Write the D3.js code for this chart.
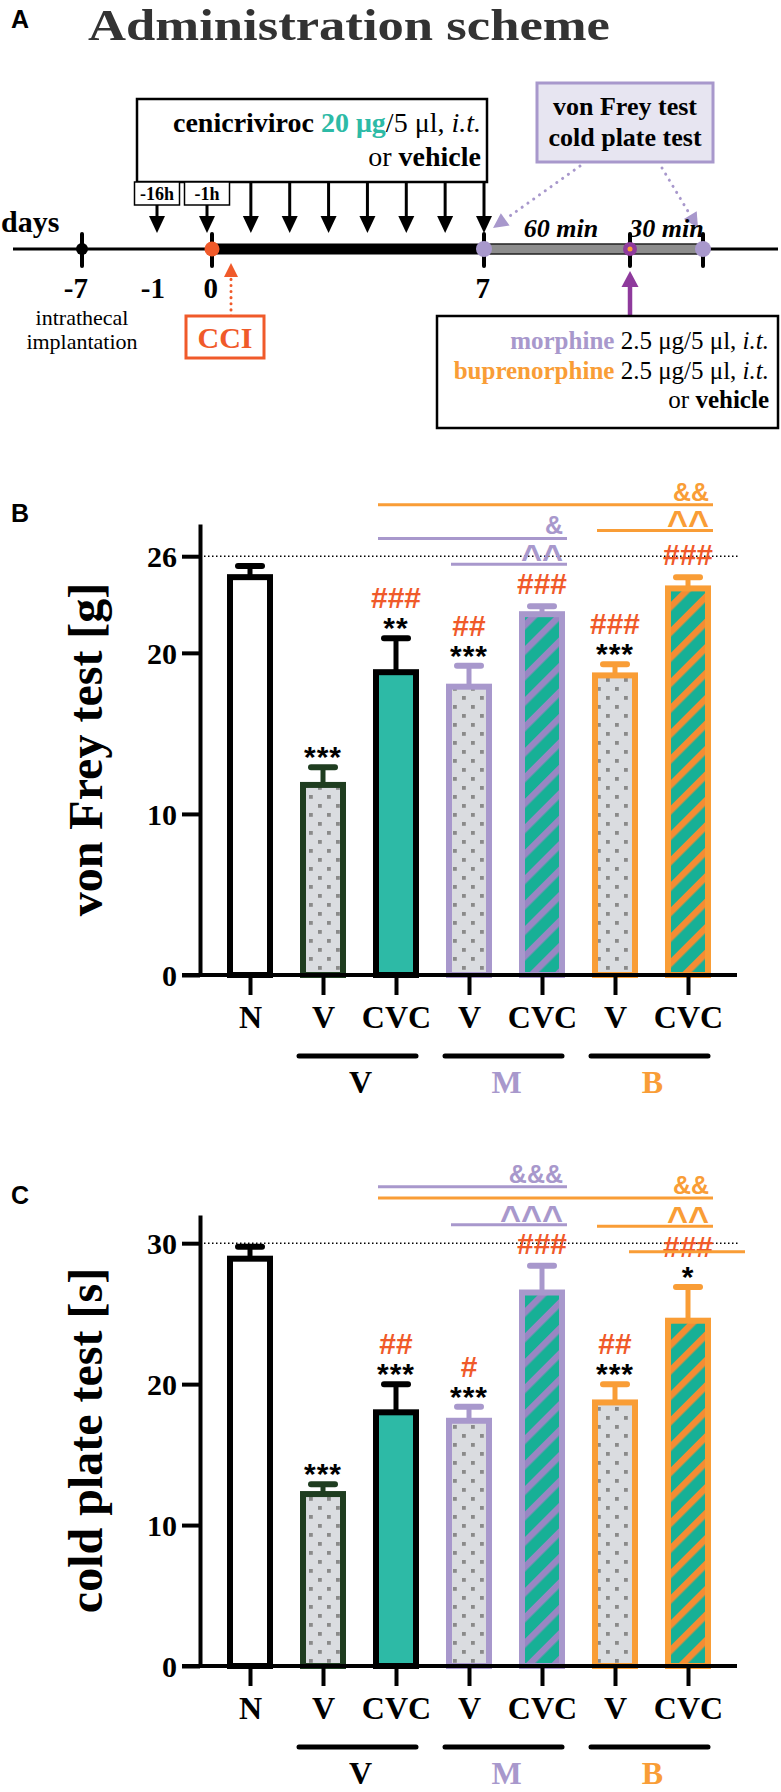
<!DOCTYPE html>
<html><head><meta charset="utf-8">
<script src="https://cdn.jsdelivr.net/npm/d3@7"></script>
<style>body{margin:0;background:#fff} svg{display:block}</style>
</head><body>
<svg id="fig" width="781" height="1792"></svg>
<script>
// ---------------- data ----------------
const categories = ["N","V","CVC","V","CVC","V","CVC"];
const barGroup   = ["N","V","V","M","M","B","B"];
const groupLabels = ["V","M","B"];
const groupSpans  = [[1,2],[3,4],[5,6]];

const vonFreyMean = [24.7, 11.8, 18.8, 17.9, 22.4, 18.6, 24.0];
const vonFreySem  = [0.7, 1.1, 2.1, 1.3, 0.5, 0.7, 0.7];
const vonFreyTicks = [0, 10, 20, 26];
const vonFreyStars = ["", "***", "**", "***", "", "***", ""];
const vonFreyHash  = ["", "", "###", "##", "###", "###", "###"];
const vonFreyBrackets = [
  {from:3, to:4, level:25.5, label:"^^", group:"M"},
  {from:2, to:4, level:27.1, label:"&",  group:"M"},
  {from:5, to:6, level:27.6, label:"^^", group:"B"},
  {from:2, to:6, level:29.2, label:"&&", group:"B"}
];

const coldPlateMean = [28.9, 12.2, 18.0, 17.4, 26.5, 18.7, 24.5];
const coldPlateSem  = [0.85, 0.7, 2.0, 1.0, 1.9, 1.3, 2.4];
const coldPlateTicks = [0, 10, 20, 30];
const coldPlateStars = ["", "***", "***", "***", "", "***", "*"];
const coldPlateHash  = ["", "", "##", "#", "###", "##", "###"];
const coldPlateBrackets = [
  {from:3, to:4, level:31.3, label:"^^^", group:"M"},
  {from:5, to:6, level:31.2, label:"^^",  group:"B"},
  {from:2, to:6, level:33.2, label:"&&",  group:"B"},
  {from:2, to:4, level:34.0, label:"&&&", group:"M"}
];
const coldPlateStrikeLevel = 29.4;

// scheme data
const dayTicks = [-7, -1, 0, 7];
const dayMarkers = [-7, 0, 7];
const injectionDays = [1, 2, 3, 4, 5, 6, 7];
const preInjections = [{label:"-16h", day:-1}, {label:"-1h", day:0}];
const testMinutes = [60, 90];

// ---------------- styles ----------------
const COL = {teal:"#2dbaa6", tealS:"#17b096", lav:"#a898cc", lavS:"#9986c3", orange:"#f99d36", orangeS:"#f48c33",
  green:"#1f3d20", red:"#f05a2a", purple:"#8e3a9c", dotBg:"#dadce0", dot:"#8a8a8a", lavFill:"#e7e5f1"};
const SERIF = "'Liberation Serif','Times New Roman',serif";
const SANS = "'Liberation Sans',Arial,sans-serif";
const groupColor = g => g === "M" ? COL.lav : g === "B" ? COL.orange : "#000";

const svg = d3.select("#fig");
const defs = svg.append("defs");
const pd = defs.append("pattern").attr("id","dots").attr("patternUnits","userSpaceOnUse").attr("width",18).attr("height",18);
pd.append("rect").attr("width",18).attr("height",18).attr("fill",COL.dotBg);
pd.append("rect").attr("x",3).attr("y",3).attr("width",3.8).attr("height",3.8).attr("fill",COL.dot);
pd.append("rect").attr("x",12).attr("y",12).attr("width",3.8).attr("height",3.8).attr("fill",COL.dot);
function stripes(id, col){
  const p = defs.append("pattern").attr("id",id).attr("patternUnits","userSpaceOnUse")
    .attr("width",18).attr("height",18).attr("patternTransform","rotate(45)");
  p.append("rect").attr("width",18).attr("height",18).attr("fill",COL.tealS);
  p.append("rect").attr("width",6.5).attr("height",18).attr("fill",col);
}
stripes("stripeLav", COL.lavS);
stripes("stripeOr", COL.orangeS);

function barStyle(i){
  const g = barGroup[i], cvc = categories[i] === "CVC";
  if (g === "N") return {fill:"#fff", stroke:"#000"};
  if (g === "V") return cvc ? {fill:COL.teal, stroke:"#000"} : {fill:"url(#dots)", stroke:COL.green};
  if (g === "M") return cvc ? {fill:"url(#stripeLav)", stroke:COL.lav} : {fill:"url(#dots)", stroke:COL.lav};
  return cvc ? {fill:"url(#stripeOr)", stroke:COL.orange} : {fill:"url(#dots)", stroke:COL.orange};
}

function arrow(g, x1, y1, x2, y2, o){
  const a = Math.atan2(y2-y1, x2-x1);
  const bx = x2 - o.hh*Math.cos(a), by = y2 - o.hh*Math.sin(a);
  const ln = g.append("line").attr("x1",x1).attr("y1",y1).attr("x2",bx).attr("y2",by)
    .attr("stroke",o.color).attr("stroke-width",o.w);
  if (o.dash) ln.attr("stroke-dasharray",o.dash).attr("stroke-linecap","round");
  const px = -Math.sin(a)*o.hw/2, py = Math.cos(a)*o.hw/2;
  g.append("path").attr("d",`M${x2},${y2}L${bx+px},${by+py}L${bx-px},${by-py}Z`).attr("fill",o.color);
}

// ---------------- Panel A ----------------
const A = svg.append("g");
A.append("text").attr("x",11).attr("y",28).attr("font-family",SANS).attr("font-weight","bold").attr("font-size",25).text("A");
A.append("text").attr("x",88).attr("y",40).attr("font-family",SERIF).attr("font-weight","bold").attr("font-size",45)
  .attr("fill","#333").attr("textLength",522).attr("lengthAdjust","spacingAndGlyphs").text("Administration scheme");

const day = d3.scaleLinear().domain([-7,-1,0,7]).range([82,159,212,484]);
const minute = d3.scaleLinear().domain([0,90]).range([day(7),703]);
const TL = 249;

// cenicriviroc box
A.append("rect").attr("x",137).attr("y",99).attr("width",350).attr("height",83).attr("fill","#fff").attr("stroke","#000").attr("stroke-width",2.5);
const t1 = A.append("text").attr("x",481).attr("y",132).attr("text-anchor","end").attr("font-family",SERIF).attr("font-size",28);
t1.append("tspan").attr("font-weight","bold").text("cenicriviroc ");
t1.append("tspan").attr("font-weight","bold").attr("fill",COL.teal).text("20 μg");
t1.append("tspan").text("/5 μl, ");
t1.append("tspan").attr("font-style","italic").text("i.t.");
const t2 = A.append("text").attr("x",481).attr("y",166).attr("text-anchor","end").attr("font-family",SERIF).attr("font-size",28);
t2.append("tspan").text("or ");
t2.append("tspan").attr("font-weight","bold").text("vehicle");

// pre-injection boxes + arrows
preInjections.forEach(p => {
  const cx = day(p.day) + (p.day < 0 ? -2 : -5);
  A.append("rect").attr("x",cx-22.5).attr("y",182).attr("width",45).attr("height",23).attr("fill","#fff").attr("stroke","#000").attr("stroke-width",1.5);
  A.append("text").attr("x",cx).attr("y",200).attr("text-anchor","middle").attr("font-family",SERIF).attr("font-weight","bold").attr("font-size",18).text(p.label);
  arrow(A, cx, 205, cx, 233, {color:"#000", w:3, hw:16, hh:17});
});
injectionDays.forEach(d => arrow(A, day(d), 182, day(d), 233, {color:"#000", w:3, hw:16, hh:17}));

A.append("text").attr("x",1).attr("y",232).attr("font-family",SERIF).attr("font-weight","bold").attr("font-size",30).text("days");

// timeline
A.append("line").attr("x1",13).attr("x2",778).attr("y1",TL).attr("y2",TL).attr("stroke","#000").attr("stroke-width",3);
A.append("rect").attr("x",day(0)).attr("y",TL-5.5).attr("width",day(7)-day(0)).attr("height",11).attr("fill","#000");
A.append("rect").attr("x",minute(0)).attr("y",TL-5).attr("width",minute(90)-minute(0)).attr("height",10).attr("fill","#8d8d8d").attr("stroke","#222").attr("stroke-width",1.5);
const tickXs = dayMarkers.map(day).concat(testMinutes.map(minute));
tickXs.forEach(x => A.append("line").attr("x1",x).attr("x2",x).attr("y1",TL-15).attr("y2",TL+17).attr("stroke","#000").attr("stroke-width",4).attr("stroke-linecap","round"));
A.append("circle").attr("cx",day(-7)).attr("cy",TL).attr("r",6).attr("fill","#000");
A.append("circle").attr("cx",day(0)).attr("cy",TL).attr("r",7.5).attr("fill",COL.red);
A.append("circle").attr("cx",day(7)).attr("cy",TL).attr("r",8).attr("fill",COL.lav);
A.append("circle").attr("cx",minute(60)).attr("cy",TL).attr("r",7).attr("fill",COL.purple);
A.append("circle").attr("cx",minute(60)).attr("cy",TL).attr("r",2.5).attr("fill",COL.orange);
A.append("circle").attr("cx",minute(90)).attr("cy",TL).attr("r",8).attr("fill",COL.lav);

dayTicks.forEach(d => A.append("text").attr("x",day(d)+6).attr("y",298).attr("text-anchor","end")
  .attr("font-family",SERIF).attr("font-weight","bold").attr("font-size",29).text(String(d)));
A.append("text").attr("x",day(-7)).attr("y",325).attr("text-anchor","middle").attr("font-family",SERIF).attr("font-size",22).text("intrathecal");
A.append("text").attr("x",day(-7)).attr("y",349).attr("text-anchor","middle").attr("font-family",SERIF).attr("font-size",22).text("implantation");

// CCI
arrow(A, day(0)+19, 316, day(0)+19, 263, {color:COL.red, w:3, hw:14, hh:14, dash:"0.1,6"});
A.append("rect").attr("x",186).attr("y",316).attr("width",78).attr("height",42).attr("fill","#fff").attr("stroke",COL.red).attr("stroke-width",3);
A.append("text").attr("x",225).attr("y",348).attr("text-anchor","middle").attr("font-family",SERIF).attr("font-weight","bold").attr("font-size",30).attr("fill",COL.red).text("CCI");

// tests box
A.append("rect").attr("x",537).attr("y",83).attr("width",176).attr("height",79).attr("fill",COL.lavFill).attr("stroke",COL.lav).attr("stroke-width",3);
A.append("text").attr("x",625).attr("y",115).attr("text-anchor","middle").attr("font-family",SERIF).attr("font-weight","bold").attr("font-size",26).text("von Frey test");
A.append("text").attr("x",625).attr("y",146).attr("text-anchor","middle").attr("font-family",SERIF).attr("font-weight","bold").attr("font-size",26).text("cold plate test");
arrow(A, 580, 166, day(7)+9, 228, {color:COL.lav, w:3, hw:15, hh:15, dash:"0.1,7"});
arrow(A, 662, 168, minute(90)-5, 228, {color:COL.lav, w:3, hw:15, hh:15, dash:"0.1,7"});
A.append("text").attr("x",(minute(0)+minute(60))/2+4).attr("y",237).attr("text-anchor","middle").attr("font-family",SERIF)
  .attr("font-weight","bold").attr("font-style","italic").attr("font-size",26).text("60 min");
A.append("text").attr("x",(minute(60)+minute(90))/2).attr("y",237).attr("text-anchor","middle").attr("font-family",SERIF)
  .attr("font-weight","bold").attr("font-style","italic").attr("font-size",26).text("30 min");

// drug box
arrow(A, minute(60), 316, minute(60), 271, {color:COL.purple, w:4.5, hw:17, hh:16});
A.append("rect").attr("x",437).attr("y",316).attr("width",341).attr("height",112).attr("fill","#fff").attr("stroke","#000").attr("stroke-width",2.5);
[["morphine", COL.lav, 349], ["buprenorphine", COL.orange, 379]].forEach(([name, col, yy]) => {
  const t = A.append("text").attr("x",769).attr("y",yy).attr("text-anchor","end").attr("font-family",SERIF).attr("font-size",25);
  t.append("tspan").attr("font-weight","bold").attr("fill",col).text(name);
  t.append("tspan").text(" 2.5 μg/5 μl, ");
  t.append("tspan").attr("font-style","italic").text("i.t.");
});
const t3 = A.append("text").attr("x",769).attr("y",408).attr("text-anchor","end").attr("font-family",SERIF).attr("font-size",25);
t3.append("tspan").text("or ");
t3.append("tspan").attr("font-weight","bold").text("vehicle");

// ---------------- Bar panels ----------------
const x = d3.scalePoint().domain(d3.range(categories.length)).range([250, 688]);

function drawPanel(cfg){
  const g = svg.append("g");
  const y = d3.scaleLinear().domain([0, cfg.max]).range([cfg.y0, cfg.yTop]);
  g.append("text").attr("x",11).attr("y",cfg.labelY).attr("font-family",SANS).attr("font-weight","bold").attr("font-size",25).text(cfg.label);

  // reference line
  g.append("line").attr("x1",200).attr("x2",740).attr("y1",y(cfg.ref)).attr("y2",y(cfg.ref))
    .attr("stroke","#000").attr("stroke-width",1.5).attr("stroke-dasharray","1.5,2.5");

  // error bars
  cfg.means.forEach((m,i) => {
    const st = barStyle(i), top = y(m + cfg.sems[i]);
    g.append("line").attr("x1",x(i)).attr("x2",x(i)).attr("y1",y(m)).attr("y2",top).attr("stroke",st.stroke).attr("stroke-width",5);
    g.append("line").attr("x1",x(i)-12).attr("x2",x(i)+12).attr("y1",top).attr("y2",top).attr("stroke",st.stroke).attr("stroke-width",6).attr("stroke-linecap","round");
  });
  // bars
  g.selectAll("rect.bar").data(cfg.means).join("rect").attr("class","bar")
    .attr("x",(d,i)=>x(i)-20).attr("width",40).attr("y",d=>y(d)).attr("height",d=>cfg.y0-y(d))
    .attr("fill",(d,i)=>barStyle(i).fill).attr("stroke",(d,i)=>barStyle(i).stroke).attr("stroke-width",6);

  // axes
  const ya = g.append("g").attr("transform","translate(200,0)")
    .call(d3.axisLeft(y).tickValues(cfg.ticks).tickSize(18).tickSizeOuter(0).tickPadding(5));
  ya.select(".domain").attr("stroke-width",4);
  ya.selectAll(".tick line").attr("stroke-width",4);
  ya.selectAll(".tick text").attr("font-family",SERIF).attr("font-weight","bold").attr("font-size",30).attr("dy","0.34em");
  const xa = g.append("g").attr("transform",`translate(0,${cfg.y0})`)
    .call(d3.axisBottom(x).tickSize(20).tickFormat(i=>categories[i]));
  xa.select(".domain").remove();
  xa.selectAll(".tick line").attr("stroke-width",4);
  xa.selectAll(".tick text").attr("font-family",SERIF).attr("font-weight","bold").attr("font-size",32).attr("y",53).attr("dy",null);
  g.append("line").attr("x1",182).attr("x2",737).attr("y1",cfg.y0).attr("y2",cfg.y0).attr("stroke","#000").attr("stroke-width",4);

  // group underlines + labels
  groupSpans.forEach((s,k) => {
    const x1 = x(s[0])-24, x2 = x(s[1])+20;
    g.append("line").attr("x1",x1).attr("x2",x2).attr("y1",cfg.y0+81).attr("y2",cfg.y0+81).attr("stroke","#000").attr("stroke-width",5).attr("stroke-linecap","round");
    g.append("text").attr("x",(x1+x2)/2+3).attr("y",cfg.y0+118).attr("text-anchor","middle").attr("font-family",SERIF)
      .attr("font-weight","bold").attr("font-size",32).attr("fill",groupColor(groupLabels[k])).text(groupLabels[k]);
  });

  // y title
  g.append("text").attr("transform",`translate(102,${(cfg.y0+cfg.yTop)/2}) rotate(-90)`).attr("text-anchor","middle")
    .attr("font-family",SERIF).attr("font-weight","bold").attr("font-size",48).text(cfg.title);

  // stars and hashes
  cfg.means.forEach((m,i) => {
    const cap = y(m + cfg.sems[i]);
    let hashCenter = cap - 23;
    if (cfg.stars[i]) {
      const c = cap - 17;
      g.append("text").attr("x",x(i)).attr("y",c+17).attr("text-anchor","middle").attr("font-family",SANS)
        .attr("font-weight","bold").attr("font-size",30).attr("letter-spacing",1).text(cfg.stars[i]);
      hashCenter = c - 24;
    }
    if (cfg.hash[i]) {
      g.append("text").attr("x",x(i)).attr("y",hashCenter+11).attr("text-anchor","middle").attr("font-family",SANS)
        .attr("font-weight","bold").attr("font-size",30).attr("fill",COL.red).text(cfg.hash[i]);
    }
  });

  // brackets
  cfg.brackets.forEach(b => {
    const col = groupColor(b.group), ly = y(b.level);
    const x1 = x(b.from)-18, x2 = x(b.to)+25;
    g.append("line").attr("x1",x1).attr("x2",x2).attr("y1",ly).attr("y2",ly).attr("stroke",col).attr("stroke-width",3);
    const caret = b.label.startsWith("^");
    g.append("text").attr("x",x2-4).attr("y",caret ? ly+6 : ly-4).attr("text-anchor","end").attr("font-family",SANS)
      .attr("font-weight","bold").attr("font-size",caret ? 36 : 25).attr("fill",col).text(b.label);
  });
  return {g, y};
}

drawPanel({label:"B", labelY:522, means:vonFreyMean, sems:vonFreySem, ticks:vonFreyTicks, max:28, y0:975, yTop:524, ref:26,
  title:"von Frey test [g]", stars:vonFreyStars, hash:vonFreyHash, brackets:vonFreyBrackets});
const pc = drawPanel({label:"C", labelY:1204, means:coldPlateMean, sems:coldPlateSem, ticks:coldPlateTicks, max:32, y0:1666, yTop:1215, ref:30,
  title:"cold plate test [s]", stars:coldPlateStars, hash:coldPlateHash, brackets:coldPlateBrackets});
pc.g.append("line").attr("x1",x(5)+14).attr("x2",x(6)+57).attr("y1",pc.y(coldPlateStrikeLevel)).attr("y2",pc.y(coldPlateStrikeLevel))
  .attr("stroke",COL.orange).attr("stroke-width",3);
</script>
</body></html>
